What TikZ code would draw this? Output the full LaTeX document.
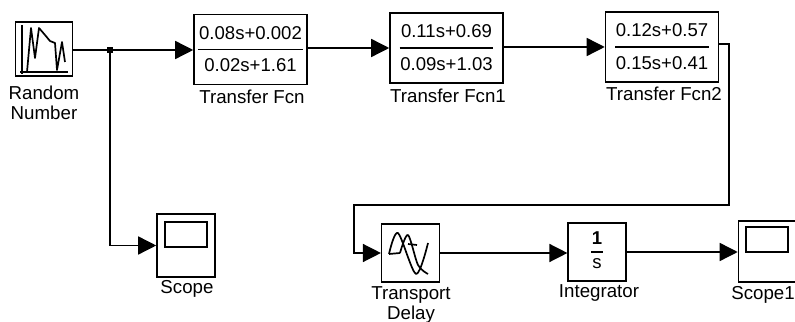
\documentclass[tikz,border=0pt]{standalone}
\usepackage{fontspec}
\setmainfont{Liberation Sans}
\usetikzlibrary{arrows.meta,positioning}
\setlength{\arrayrulewidth}{1pt}
\setlength{\tabcolsep}{0.5pt}
\renewcommand{\arraystretch}{1.42}
\newcommand{\blockfrac}[2]{\begin{tabular}{c}#1\\\hline #2\end{tabular}}
\tikzset{
  block/.style={draw,rectangle,line width=1.1pt,inner sep=0pt,minimum width=14.4mm,minimum height=14.5mm,font=\fontsize{13.2}{15.6}\selectfont},
  tfblock/.style={block,minimum width=28.25mm,minimum height=17.5mm},
  screen/.style={draw,rectangle,line width=1.1pt,inner sep=0pt,minimum width=10.5mm,minimum height=6.25mm},
  caption/.style={align=center,inner sep=0pt,font=\fontsize{13.3}{14.6}\selectfont},
  wire/.style={line width=1pt},
  icon/.style={line width=1.2pt,line join=round}
}
\begin{document}
\begin{tikzpicture}[x=0.25mm,y=-0.25mm,>={Triangle[length=4.5mm,width=4.5mm]}]
  \useasboundingbox (0,0) rectangle (795,322);
  % top row
  \node[block,minimum width=14.25mm,minimum height=13.5mm] (rnd) at (44,49) {};
  \node[tfblock] (tf) at (250.5,49.5) {\blockfrac{0.08s+0.002}{0.02s+1.61}};
  \node[tfblock] (tf1) at (446.5,48) {\blockfrac{0.11s+0.69}{0.09s+1.03}};
  \node[tfblock] (tf2) at (662,47) {\blockfrac{0.12s+0.57}{0.15s+0.41}};
  % bottom row
  \node[block,minimum width=14.5mm,minimum height=15.75mm] (scope) at (186,245.5) {};
  \node[block] (delay) at (410.5,253) {};
  \node[block,font=\fontsize{13.2}{11}\selectfont] (integ) at (597,252) {\blockfrac{\textbf{1}}{s}};
  \node[block,minimum width=14.25mm,minimum height=15.25mm] (scope1) at (767,251.5) {};
  \node[screen] (scr) at (186,234.5) {};
  \node[screen] (scr1) at (767,239.5) {};
  % captions
  \node[caption] (rndcap) at (44,103) {Random\\Number};
  \node[caption] (tfcap) at (252,97) {Transfer Fcn};
  \node[caption] (tf1cap) at (448,96) {Transfer Fcn1};
  \node[caption] (tf2cap) at (664,94) {Transfer Fcn2};
  \node[caption] (scopecap) at (187,289) {Scope};
  \node[caption] (delaycap) at (411,305) {Transport\\Delay};
  \node[caption] (integcap) at (599,293) {Integrator};
  \node[caption] (scope1cap) at (763,295) {Scope1};
  % block icons
  \draw[icon] (22,25) -- (22,74) (20,72) -- (68,72);
  \draw[icon] (27,72) -- (31,28) -- (35,58) -- (39,28) -- (45,35) -- (50,41) -- (55,43) -- (57,70) -- (62,42) -- (65,62);
  \draw[icon] (389,254) -- (400,253) plot[smooth] coordinates {(400,253) (408,235) (418,265) (428,274)};
  \draw[icon] plot[smooth] coordinates {(389,254) (398,233) (416,274) (428,243)};
  \draw[icon] (408,244) -- (417,245);
  % connectors
  \coordinate (c1) at (729,44);
  \coordinate (c2) at (729,205);
  \coordinate (c3) at (354,205);
  \node[fill=black,inner sep=0pt,minimum size=1.5mm] (jn) at (110,50) {};
  \draw[wire,->] (rnd.east |- jn) -- (jn) -- (tf.west |- jn);
  \draw[wire,->] (jn) |- (scope);
  \draw[wire,->] (tf.east |- tf1.west) -- (tf1);
  \draw[wire,->] (tf1.east |- tf2.west) -- (tf2);
  \draw[wire,->] (tf2.east |- c1) -- (c1) -- (c2) -- (c3) |- (delay);
  \draw[wire,->] (delay) -- (integ.west |- delay);
  \draw[wire,->] (integ) -- (scope1.west |- integ);
\end{tikzpicture}
\end{document}
